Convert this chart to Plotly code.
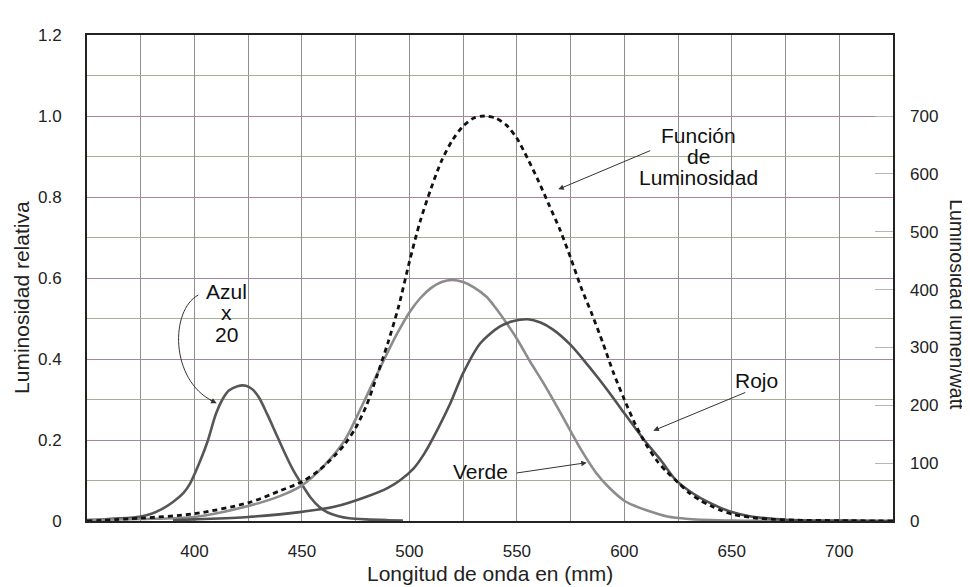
import plotly.graph_objects as go

# ---------------- data ----------------
wl_lum = [350, 375, 400, 425, 440, 450, 458, 465, 470, 475, 480, 485, 490, 495, 500,
          505, 510, 515, 520, 525, 530, 535, 540, 545, 550, 555, 560, 565, 570, 575,
          580, 585, 590, 595, 600, 605, 610, 615, 620, 625, 630, 635, 640, 645, 650,
          660, 670, 680, 700, 725]
lum = [0.0, 0.007, 0.018, 0.045, 0.075, 0.097, 0.125, 0.16, 0.19, 0.23, 0.285, 0.36, 0.44, 0.53, 0.64,
       0.74, 0.82, 0.89, 0.94, 0.975, 0.995, 1.0, 0.995, 0.978, 0.945, 0.895, 0.84, 0.78, 0.72, 0.65,
       0.575, 0.51, 0.44, 0.365, 0.30, 0.24, 0.19, 0.15, 0.12, 0.095, 0.07, 0.052, 0.038, 0.026, 0.017,
       0.008, 0.004, 0.002, 0.001, 0.0]

wl_verde = [350, 375, 400, 425, 440, 450, 460, 470, 477, 482, 487, 494, 500, 505, 510, 515, 520,
            525, 530, 536, 540, 545, 550, 556, 563, 570, 575, 580, 587, 593, 600, 605, 610, 620, 630,
            650, 680, 725]
verde = [0.003, 0.005, 0.01, 0.037, 0.062, 0.088, 0.135, 0.2, 0.274, 0.33, 0.385, 0.46, 0.515, 0.55,
         0.575, 0.59, 0.595, 0.59, 0.577, 0.553, 0.527, 0.49, 0.45, 0.395, 0.335, 0.27, 0.222, 0.175,
         0.118, 0.082, 0.05, 0.037, 0.027, 0.011, 0.005, 0.001, 0.0, 0.0]

wl_rojo = [390, 400, 425, 449, 465, 480, 490, 496, 502, 507, 513, 519, 525, 533, 542, 548, 555, 561,
           567, 575, 581, 588, 594, 600, 605, 610, 617, 624, 632, 640, 650, 659, 670, 682, 700, 725]
rojo = [0.002, 0.004, 0.01, 0.022, 0.035, 0.06, 0.082, 0.102, 0.13, 0.167, 0.225, 0.29, 0.365, 0.439,
        0.48, 0.493, 0.498, 0.49, 0.472, 0.435, 0.398, 0.352, 0.31, 0.266, 0.23, 0.195, 0.15, 0.101,
        0.068, 0.044, 0.022, 0.011, 0.005, 0.002, 0.001, 0.0]

wl_azul = [350, 360, 370, 375, 380, 385, 390, 395, 398, 402, 406, 410, 413, 416, 420, 424, 427, 430,
           434, 438, 442, 446, 450, 454, 458, 462, 467, 472, 480, 490, 497]
azul = [0.002, 0.005, 0.008, 0.011, 0.018, 0.03, 0.047, 0.07, 0.093, 0.14, 0.195, 0.265, 0.3, 0.322,
        0.333, 0.334, 0.325, 0.305, 0.262, 0.215, 0.168, 0.125, 0.09, 0.058, 0.035, 0.021, 0.012,
        0.007, 0.004, 0.002, 0.001]

lumen_factor = 700  # 1.0 relative == 700 lumen/watt on the right axis
lum_lmw = [v * lumen_factor for v in lum]

x_ticks = [400, 450, 500, 550, 600, 650, 700]
y_ticks = [0, 0.2, 0.4, 0.6, 0.8, 1.0, 1.2]
y_ticktext = ["0", "0.2", "0.4", "0.6", "0.8", "1.0", "1.2"]
y2_ticks = [0, 100, 200, 300, 400, 500, 600, 700]

FONT = "Liberation Sans, Arial, Helvetica, sans-serif"

fig = go.Figure()
fig.add_trace(go.Scatter(x=wl_azul, y=azul, mode="lines", name="Azul x 20",
                         line=dict(color="#575757", width=2.6, shape="spline", smoothing=0.8)))
fig.add_trace(go.Scatter(x=wl_verde, y=verde, mode="lines", name="Verde",
                         line=dict(color="#8c8c8c", width=2.6, shape="spline", smoothing=0.8)))
fig.add_trace(go.Scatter(x=wl_rojo, y=rojo, mode="lines", name="Rojo",
                         line=dict(color="#525252", width=2.6, shape="spline", smoothing=0.8)))
fig.add_trace(go.Scatter(x=wl_lum, y=lum_lmw, mode="lines", name="Función de Luminosidad",
                         yaxis="y2",
                         line=dict(color="#111111", width=2.8, dash="5px,4px",
                                   shape="spline", smoothing=0.8)))

# page body has an 8px margin -> shift the figure so the plot area lands where the reference has it
fig.update_layout(
    width=962, height=579,
    margin=dict(l=79, r=77, t=27, b=66, autoexpand=False),
    paper_bgcolor="white", plot_bgcolor="white",
    showlegend=False,
    font=dict(family=FONT, size=17, color="#222"),
    xaxis=dict(range=[350, 725], tickvals=x_ticks, ticks="", showgrid=True,
               gridcolor="#8f8f8f", gridwidth=1, automargin=False,
               minor=dict(dtick=25, tick0=350, showgrid=True, gridcolor="#8f8f8f", gridwidth=1),
               showline=True, linecolor="#222", linewidth=2, mirror=True,
               zeroline=False, ticklabelstandoff=14,
               tickfont=dict(size=17, color="#222")),
    yaxis=dict(range=[0, 1.2], tickvals=y_ticks, ticktext=y_ticktext, ticks="",
               showgrid=True, gridcolor="#a9839f", gridwidth=1, automargin=False,
               minor=dict(dtick=0.1, tick0=0, showgrid=True, gridcolor="#a3b096", gridwidth=1),
               showline=True, linecolor="#222", linewidth=2, mirror=True,
               zeroline=False, ticklabelstandoff=20,
               tickfont=dict(size=17, color="#222")),
    yaxis2=dict(range=[0, 840], tickvals=y2_ticks, overlaying="y", side="right",
                showgrid=False, zeroline=False, ticks="inside", ticklen=18, automargin=False,
                tickcolor="#b5b5b5", tickwidth=1, ticklabelstandoff=16,
                tickfont=dict(size=17, color="#222")),
)

# axis titles
fig.add_annotation(text="Longitud de onda en (mm)", xref="paper", yref="paper",
                   x=0.5, y=-0.109, xanchor="center", yanchor="middle", showarrow=False,
                   font=dict(size=21, family=FONT, color="#222"))
fig.add_annotation(text="Luminosidad relativa", xref="paper", yref="paper",
                   x=-0.0806, y=0.459, xanchor="center", yanchor="middle", textangle=-90,
                   showarrow=False, font=dict(size=21, family=FONT, color="#222"))
fig.add_annotation(text="Luminosidad lumen/watt", xref="paper", yref="paper",
                   x=1.0794, y=0.444, xanchor="center", yanchor="middle", textangle=90,
                   showarrow=False, font=dict(size=19.5, family=FONT, color="#222"))

lab_font = dict(size=21, family=FONT, color="#111")

# Función de Luminosidad label + arrow
for txt, yv in [("Función", 0.952), ("de", 0.899), ("Luminosidad", 0.847)]:
    fig.add_annotation(text=txt, x=634.3, y=yv, xref="x", yref="y", showarrow=False, font=lab_font)
fig.add_annotation(x=569.3, y=0.819, ax=612.7, ay=0.916, xref="x", yref="y", axref="x", ayref="y",
                   text="", showarrow=True, arrowhead=2, arrowsize=1.1, arrowwidth=1, arrowcolor="#333")

# Rojo
fig.add_annotation(text="Rojo", x=661.3, y=0.348, xref="x", yref="y", showarrow=False, font=lab_font)
fig.add_annotation(x=613.5, y=0.223, ax=657.0, ay=0.319, xref="x", yref="y", axref="x", ayref="y",
                   text="", showarrow=True, arrowhead=2, arrowsize=1.1, arrowwidth=1, arrowcolor="#333")

# Verde
fig.add_annotation(text="Verde", x=532.9, y=0.122, xref="x", yref="y", showarrow=False, font=lab_font)
fig.add_annotation(x=582.5, y=0.144, ax=549.2, ay=0.118, xref="x", yref="y", axref="x", ayref="y",
                   text="", showarrow=True, arrowhead=2, arrowsize=1.1, arrowwidth=1, arrowcolor="#333")

# Azul x 20 with curved arrow
for txt, yv in [("Azul", 0.567), ("x", 0.514), ("20", 0.461)]:
    fig.add_annotation(text=txt, x=414.7, y=yv, xref="x", yref="y", showarrow=False, font=lab_font)
fig.add_shape(type="path", xref="x", yref="y",
              path="M 401.8,0.558 C 388.6,0.521 388.6,0.348 408.5,0.296",
              line=dict(color="#333", width=1))
fig.add_annotation(x=410.3, y=0.291, ax=406.5, ay=0.301, xref="x", yref="y", axref="x", ayref="y",
                   text="", showarrow=True, arrowhead=2, arrowsize=1.1, arrowwidth=1, arrowcolor="#333")

fig.write_html("out.html")
